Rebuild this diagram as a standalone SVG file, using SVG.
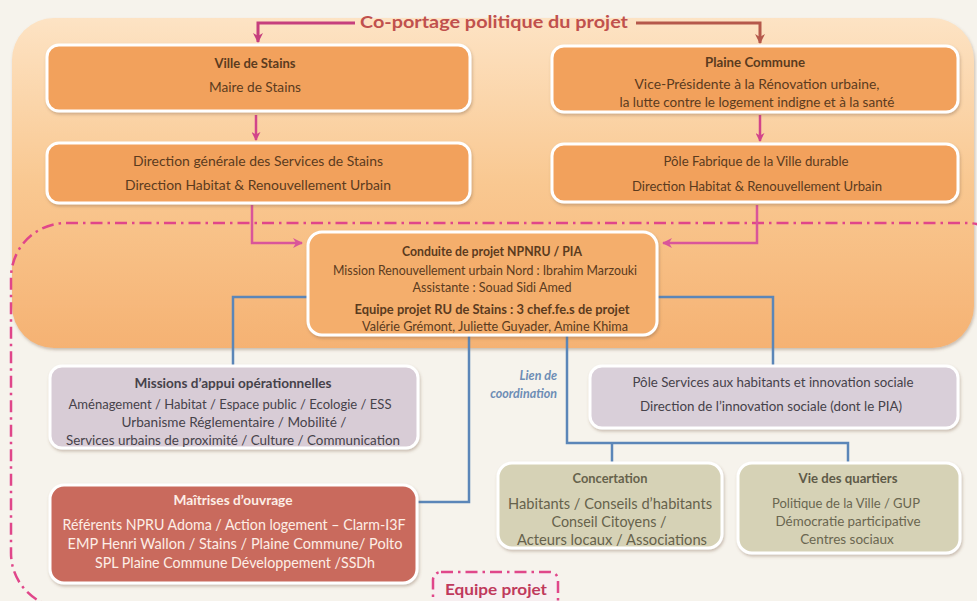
<svg xmlns="http://www.w3.org/2000/svg" width="977" height="601" viewBox="0 0 977 601">
<defs>
<linearGradient id="gOr" x1="0" y1="0" x2="0" y2="1">
<stop offset="0" stop-color="#fde3c4"/>
<stop offset="0.5" stop-color="#f9c891"/>
<stop offset="1" stop-color="#f5b273"/>
</linearGradient>
<filter id="sh" x="-5%" y="-10%" width="112%" height="130%">
<feDropShadow dx="1" dy="2" stdDeviation="1.5" flood-color="#7a5a40" flood-opacity="0.35"/>
</filter>
<marker id="aMag" viewBox="0 0 10 10" refX="9" refY="5" markerWidth="9" markerHeight="9" markerUnits="userSpaceOnUse" orient="auto">
<path d="M0,0 L10,5 L0,10 L3,5 z" fill="#d2448a"/>
</marker>
<marker id="aL" viewBox="0 0 10 10" refX="9" refY="5" markerWidth="10" markerHeight="10" markerUnits="userSpaceOnUse" orient="auto">
<path d="M0,0 L10,5 L0,10 L3,5 z" fill="#c63f7d"/>
</marker>
<marker id="aR" viewBox="0 0 10 10" refX="9" refY="5" markerWidth="10" markerHeight="10" markerUnits="userSpaceOnUse" orient="auto">
<path d="M0,0 L10,5 L0,10 L3,5 z" fill="#b5584b"/>
</marker>
<marker id="aPk" viewBox="0 0 10 10" refX="9" refY="5" markerWidth="10" markerHeight="10" markerUnits="userSpaceOnUse" orient="auto">
<path d="M0,0 L10,5 L0,10 L3,5 z" fill="#d9559a"/>
</marker>
</defs>
<style>
text{font-family:Lato,"Liberation Sans",sans-serif;text-anchor:middle}
.b{font-weight:bold}
.or{fill:#f2a15c;stroke:#fff;stroke-width:3;filter:url(#sh)}
.orc{fill:#f4ae6c;stroke:#fff;stroke-width:3;filter:url(#sh)}
.mv{fill:#d8ccd6;stroke:#fff;stroke-width:3;filter:url(#sh)}
.rd{fill:#c96b5d;stroke:#fff;stroke-width:3;filter:url(#sh)}
.kh{fill:#d6d2b6;stroke:#fff;stroke-width:3;filter:url(#sh)}
.to{fill:#5b3b1e;font-size:13px}
.tm{fill:#46424a;font-size:14px}
.tr{fill:#fdeee6;font-size:15px}
.tk{fill:#66624c;font-size:15px}
.tv{fill:#6a6650;font-size:13.5px}
.dd{fill:none;stroke:#e0468a;stroke-width:2.5;stroke-dasharray:12 5 2.5 5}
.blue{fill:none;stroke:#5b86b8;stroke-width:2.5}
.pk{fill:none;stroke:#d2448a;stroke-width:2.5}
</style>
<rect width="977" height="601" fill="#f6f3ec"/>
<rect x="12" y="18" width="962" height="330" rx="42" fill="url(#gOr)" filter="url(#sh)"/>
<rect class="dd" x="11" y="223" width="1010" height="385" rx="55"/>

<g id="connectors">
<path d="M355,23 H258 V42" fill="none" stroke="#c63f7d" stroke-width="3" marker-end="url(#aL)"/>
<path d="M636,23 H760 V43" fill="none" stroke="#b5584b" stroke-width="3" marker-end="url(#aR)"/>
<path class="pk" d="M256,115 V140" marker-end="url(#aMag)"/>
<path class="pk" d="M760,115 V141" marker-end="url(#aMag)"/>
<path d="M252,205 V243 H302" fill="none" stroke="#d9559a" stroke-width="2.5" marker-end="url(#aPk)"/>
<path d="M757,205 V243 H663" fill="none" stroke="#d9559a" stroke-width="2.5" marker-end="url(#aPk)"/>
<path class="blue" d="M308,297 H233 V366"/>
<path class="blue" d="M657,297 H773 V366"/>
<path class="blue" d="M469,335 V502 H418"/>
<path class="blue" d="M567,335 V443 H848 V463"/>
<path class="blue" d="M612,443 V463"/>
</g>

<text x="494" y="28" class="b" style="font-size:17px;fill:#c0504d" textLength="268" lengthAdjust="spacingAndGlyphs">Co-portage politique du projet</text>

<g id="ville-stains">
<rect class="or" x="47" y="45" width="423" height="66" rx="12"/>
<text x="255" y="68" class="to b" textLength="81" lengthAdjust="spacingAndGlyphs">Ville de Stains</text>
<text x="255" y="92" class="to" textLength="92" lengthAdjust="spacingAndGlyphs">Maire de Stains</text>
</g>
<g id="direction-generale">
<rect class="or" x="47" y="143" width="423" height="60" rx="12"/>
<text x="258" y="166" class="to" textLength="250" lengthAdjust="spacingAndGlyphs">Direction générale des Services de Stains</text>
<text x="258" y="190" class="to" textLength="266" lengthAdjust="spacingAndGlyphs">Direction Habitat &amp; Renouvellement Urbain</text>
</g>
<g id="plaine-commune">
<rect class="or" x="552" y="46" width="406" height="66" rx="12"/>
<text x="755" y="67" class="to b" textLength="100" lengthAdjust="spacingAndGlyphs">Plaine Commune</text>
<text x="757" y="89" class="to" textLength="245" lengthAdjust="spacingAndGlyphs">Vice-Présidente à la Rénovation urbaine,</text>
<text x="757" y="107" class="to" textLength="275" lengthAdjust="spacingAndGlyphs">la lutte contre  le logement indigne et à la santé</text>
</g>
<g id="pole-fabrique">
<rect class="or" x="552" y="144" width="406" height="58" rx="12"/>
<text x="756" y="166" class="to" textLength="185" lengthAdjust="spacingAndGlyphs">Pôle Fabrique de la Ville durable</text>
<text x="757" y="191" class="to" textLength="250" lengthAdjust="spacingAndGlyphs">Direction Habitat &amp; Renouvellement Urbain</text>
</g>
<g id="conduite-projet">
<rect class="orc" x="308" y="232" width="349" height="103" rx="14"/>
<text x="492" y="256" class="to b" style="font-size:12.5px" textLength="180" lengthAdjust="spacingAndGlyphs">Conduite de projet NPNRU  / PIA</text>
<text x="485" y="275" class="to" style="font-size:12.5px" textLength="304" lengthAdjust="spacingAndGlyphs">Mission  Renouvellement  urbain Nord : Ibrahim  Marzouki</text>
<text x="492" y="292" class="to" style="font-size:12.5px" textLength="159" lengthAdjust="spacingAndGlyphs">Assistante  : Souad  Sidi  Amed</text>
<text x="492" y="314" class="to b" style="font-size:13px" textLength="275" lengthAdjust="spacingAndGlyphs">Equipe projet RU de Stains : 3 chef.fe.s de projet</text>
<text x="495" y="331" class="to" style="font-size:12.5px" textLength="266" lengthAdjust="spacingAndGlyphs">Valérie  Grémont,  Juliette  Guyader,  Amine  Khima</text>
</g>
<g id="missions-appui">
<rect class="mv" x="50" y="366" width="368" height="82" rx="12"/>
<text x="233" y="388" class="tm b" style="font-size:13px" textLength="197" lengthAdjust="spacingAndGlyphs">Missions d’appui opérationnelles</text>
<text x="230" y="409" class="tm" textLength="323" lengthAdjust="spacingAndGlyphs">Aménagement / Habitat / Espace public / Ecologie / ESS</text>
<text x="234" y="427" class="tm" textLength="225" lengthAdjust="spacingAndGlyphs">Urbanisme Réglementaire / Mobilité /</text>
<text x="233" y="445" class="tm" textLength="334" lengthAdjust="spacingAndGlyphs">Services urbains de proximité /  Culture / Communication</text>
</g>
<g id="pole-services">
<rect class="mv" x="590" y="366" width="368" height="62" rx="12" style="fill:#d9cfd9"/>
<text x="773" y="387" class="tm" style="font-size:13.5px" textLength="281" lengthAdjust="spacingAndGlyphs">Pôle Services aux habitants et innovation sociale</text>
<text x="771" y="411" class="tm" style="font-size:13.5px" textLength="262" lengthAdjust="spacingAndGlyphs">Direction de l’innovation sociale (dont le PIA)</text>
</g>
<g id="lien-coordination">
<text x="557" y="380" style="font-size:12.5px;font-style:italic;font-weight:bold;fill:#6d8db5;text-anchor:end">Lien de</text>
<text x="557" y="398" style="font-size:12.5px;font-style:italic;font-weight:bold;fill:#6d8db5;text-anchor:end">coordination</text>
</g>
<g id="maitrises-ouvrage">
<rect class="rd" x="50" y="485" width="367" height="98" rx="14"/>
<text x="233" y="505" class="tr b" style="font-size:12.5px" textLength="119" lengthAdjust="spacingAndGlyphs">Maîtrises d’ouvrage</text>
<text x="234" y="530" class="tr" textLength="343" lengthAdjust="spacingAndGlyphs">Référents NPRU Adoma / Action logement – Clarm-I3F</text>
<text x="235" y="549" class="tr" textLength="335" lengthAdjust="spacingAndGlyphs">EMP Henri Wallon / Stains / Plaine Commune/ Polto</text>
<text x="235" y="568" class="tr" textLength="280" lengthAdjust="spacingAndGlyphs">SPL Plaine Commune Développement /SSDh</text>
</g>
<g id="concertation">
<rect class="kh" x="498" y="463" width="224" height="85" rx="14"/>
<text x="610" y="483" class="tk b" style="font-size:12.5px" textLength="75" lengthAdjust="spacingAndGlyphs">Concertation</text>
<text x="610" y="509" class="tk" textLength="204" lengthAdjust="spacingAndGlyphs">Habitants / Conseils d’habitants</text>
<text x="609" y="527" class="tk" textLength="115" lengthAdjust="spacingAndGlyphs">Conseil Citoyens /</text>
<text x="612" y="545" class="tk" textLength="190" lengthAdjust="spacingAndGlyphs">Acteurs locaux / Associations</text>
</g>
<g id="vie-quartiers">
<rect class="kh" x="738" y="463" width="222" height="90" rx="14"/>
<text x="848" y="483" class="tv b" style="font-size:12.5px;fill:#5e5a48" textLength="99" lengthAdjust="spacingAndGlyphs">Vie des quartiers</text>
<text x="846" y="508" class="tv" textLength="148" lengthAdjust="spacingAndGlyphs">Politique de la Ville / GUP</text>
<text x="848" y="526" class="tv" textLength="145" lengthAdjust="spacingAndGlyphs">Démocratie  participative</text>
<text x="847" y="544" class="tv">Centres sociaux</text>
</g>
<g id="equipe-projet">
<rect x="433" y="572" width="125" height="40" rx="8" class="dd" style="fill:#f7eff0"/>
<text x="496" y="595" class="b" style="font-size:15px;fill:#c0395c" textLength="102" lengthAdjust="spacingAndGlyphs">Equipe projet</text>
</g>
</svg>
